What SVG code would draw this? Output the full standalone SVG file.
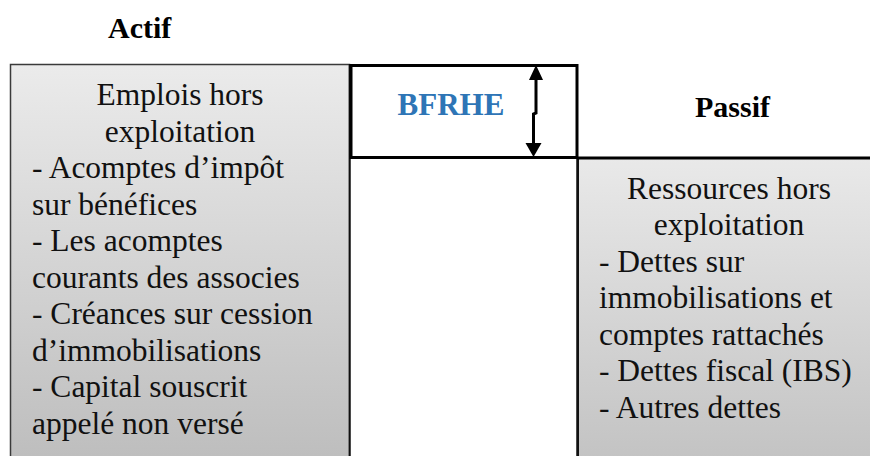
<svg xmlns="http://www.w3.org/2000/svg" width="870" height="456" viewBox="0 0 870 456">
  <defs>
    <linearGradient id="gradLeft" x1="0" y1="0" x2="0" y2="1">
      <stop offset="0" stop-color="#ebebeb"/>
      <stop offset="1" stop-color="#bdbdbd"/>
    </linearGradient>
    <linearGradient id="gradRight" x1="0" y1="0" x2="0" y2="1">
      <stop offset="0" stop-color="#e9e9e9"/>
      <stop offset="1" stop-color="#c2c2c2"/>
    </linearGradient>
  </defs>
  <style>
    text { font-family: 'Liberation Serif', 'DejaVu Serif', serif; }
    .body { font-size: 31.5px; fill: #111; }
    .head { font-size: 30px; font-weight: bold; fill: #000; }
    .blue { font-size: 31px; font-weight: bold; fill: #2e75b6; }
    .mid { text-anchor: middle; }
  </style>
  <rect width="870" height="456" fill="#ffffff"/>

  <text class="head" x="108" y="38">Actif</text>

  <!-- Left: emplois hors exploitation -->
  <g id="emplois">
    <rect x="10.5" y="64.5" width="339" height="400" fill="url(#gradLeft)" stroke="#3a3a3a" stroke-width="1.5"/>
    <line x1="350" y1="64" x2="350" y2="456" stroke="#111" stroke-width="2.5"/>
    <text class="body mid" x="180" y="105">Emplois hors</text>
    <text class="body mid" x="180" y="141.5">exploitation</text>
    <text class="body" x="32" y="178">- Acomptes d’impôt</text>
    <text class="body" x="32" y="214.5">sur bénéfices</text>
    <text class="body" x="32" y="251">- Les acomptes</text>
    <text class="body" x="32" y="287.5">courants des associes</text>
    <text class="body" x="32" y="324">- Créances sur cession</text>
    <text class="body" x="32" y="360.5">d’immobilisations</text>
    <text class="body" x="32" y="397">- Capital souscrit</text>
    <text class="body" x="32" y="433.5">appelé non versé</text>
  </g>

  <!-- Middle: BFRHE -->
  <g id="bfrhe">
    <rect x="350" y="158" width="227" height="310" fill="#ffffff" stroke="#111" stroke-width="1.5"/>
    <rect x="351" y="65.5" width="226" height="92" fill="#ffffff" stroke="#000" stroke-width="3"/>
    <text class="blue mid" x="451" y="115">BFRHE</text>
  </g>

  <!-- Right: ressources hors exploitation -->
  <g id="ressources">
    <rect x="578" y="158" width="300" height="310" fill="url(#gradRight)" stroke="#111" stroke-width="2"/>
    <line x1="577" y1="158" x2="870" y2="158" stroke="#000" stroke-width="3"/>
    <text class="head" x="695" y="117">Passif</text>
    <text class="body mid" x="729" y="198.5">Ressources hors</text>
    <text class="body mid" x="729" y="235">exploitation</text>
    <text class="body" x="599" y="271.5">- Dettes sur</text>
    <text class="body" x="599" y="308">immobilisations et</text>
    <text class="body" x="599" y="344.5">comptes rattachés</text>
    <text class="body" x="599" y="381">- Dettes fiscal (IBS)</text>
    <text class="body" x="599" y="417.5">- Autres dettes</text>
  </g>

  <!-- Double-headed height arrow -->
  <g id="connectors">
    <polyline points="536,78 536,113 533.5,114 533.5,145" fill="none" stroke="#000" stroke-width="3"/>
    <polygon points="536,65 543,80 529,80" fill="#000"/>
    <polygon points="533.5,157 541.5,143 525.5,143" fill="#000"/>
  </g>
</svg>
